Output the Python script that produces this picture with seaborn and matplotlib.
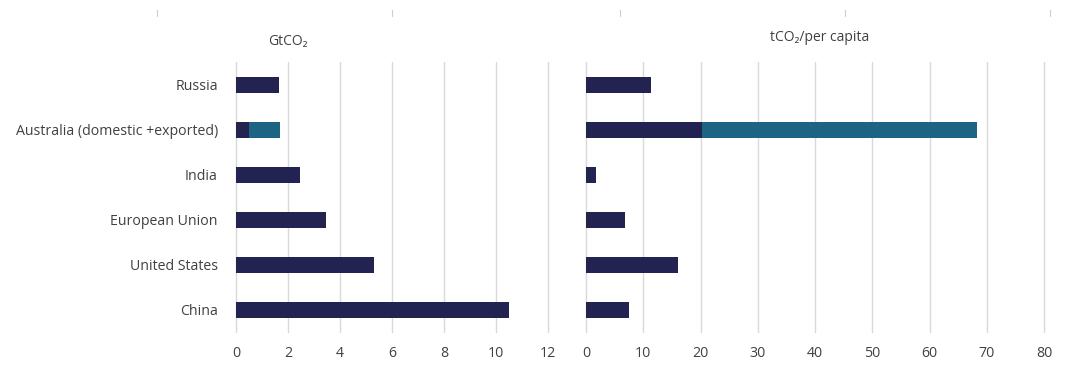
import pandas as pd
import numpy as np
import matplotlib.pyplot as plt
import seaborn as sns
from matplotlib.lines import Line2D

countries = ["Russia", "Australia (domestic +exported)", "India",
             "European Union", "United States", "China"]
# total emissions, GtCO2 (domestic part and exported part)
gt_domestic = [1.65, 0.5, 2.45, 3.47, 5.3, 10.5]
gt_exported = [0, 1.2, 0, 0, 0, 0]
# per capita, tCO2
pc_domestic = [11.3, 20.3, 1.8, 6.75, 16.1, 7.45]
pc_exported = [0, 48.0, 0, 0, 0, 0]

df = pd.DataFrame({
    "country": countries,
    "gt_dom": gt_domestic,
    "gt_tot": np.add(gt_domestic, gt_exported),
    "pc_dom": pc_domestic,
    "pc_tot": np.add(pc_domestic, pc_exported),
})

navy = "#222350"
teal = "#1d6383"
grid = "#d9d9d9"
txt = "#404040"

sns.set_theme(style="white")
plt.rcParams['font.family'] = ['Open Sans', 'DejaVu Sans']

fig = plt.figure(figsize=(10.7, 3.92), dpi=100)
ax1 = fig.add_axes([0.2206, 0.1518, 0.2916, 0.6888])
ax2 = fig.add_axes([0.5477, 0.1518, 0.428, 0.6888])

for ax, tot, dom, lim, step in [(ax1, "gt_tot", "gt_dom", 12, 2),
                                (ax2, "pc_tot", "pc_dom", 80, 10)]:
    sns.barplot(data=df, x=tot, y="country", color=teal, width=0.35,
                saturation=1, linewidth=0, ax=ax, zorder=3)
    sns.barplot(data=df, x=dom, y="country", color=navy, width=0.35,
                saturation=1, linewidth=0, ax=ax, zorder=4)
    ax.set_xlim(0, lim)
    ax.set_ylim(5.5, -0.5)
    ax.set_xticks(range(0, lim + 1, step))
    ax.grid(axis="x", color=grid, linewidth=1, zorder=0)
    for gl in ax.get_xgridlines():
        gl.set_clip_on(False)
    ax.set_xlabel("")
    ax.set_ylabel("")
    sns.despine(ax=ax, left=True, bottom=True)
    ax.tick_params(axis="both", length=0, labelsize=10.2, colors=txt, pad=10)

ax1.tick_params(axis="y", labelsize=10.2, pad=13)
ax2.set_yticklabels([])

fig.text(0.269, 0.895, "GtCO₂", ha="center", va="center", fontsize=10, color=txt)
fig.text(0.766, 0.905, "tCO₂/per capita", ha="center", va="center", fontsize=10, color=txt)

# faint marks along the top edge
for xp in [157, 392, 620, 845, 1050]:
    fig.add_artist(Line2D([xp / 1070, xp / 1070], [1 - 10 / 392, 1 - 16 / 392],
                          color="#cccccc", linewidth=0.8))

fig.savefig("out.png", dpi=100)
